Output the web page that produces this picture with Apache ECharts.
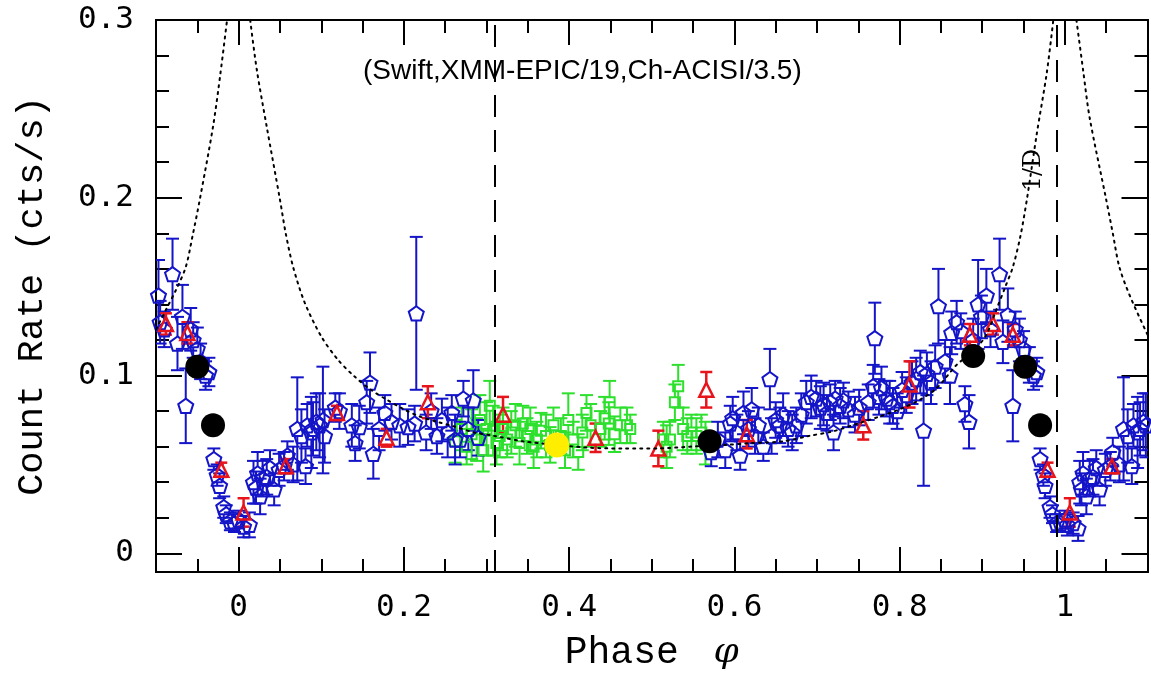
<!DOCTYPE html>
<html><head><meta charset="utf-8">
<script src="https://cdn.jsdelivr.net/npm/echarts@6/dist/echarts.min.js"></script>
<style>html,body{margin:0;padding:0;background:#fff}#c{width:1151px;height:677px}</style>
</head><body><div id="c"></div>
<script>
// ---------- axis values ----------
const xMin = -0.1, xMax = 1.1;
const yMin = -0.0105, yMax = 0.3;
const xTickLabels = [0, 0.2, 0.4, 0.6, 0.8, 1];
const xMinorTicks = [-0.05, 0.05, 0.1, 0.15, 0.25, 0.3, 0.35, 0.45, 0.5, 0.55, 0.65, 0.7, 0.75, 0.85, 0.9, 0.95, 1.05];
const yTickLabels = [0, 0.1, 0.2, 0.3];
const yMinorTicks = [0.02, 0.04, 0.06, 0.08, 0.12, 0.14, 0.16, 0.18, 0.22, 0.24, 0.26, 0.28];

// ---------- data: [phase, rate, error] ----------
const swiftData = [
 [-0.097,0.145,0.020],[-0.095,0.130,0.012],[-0.090,0.126,0.010],[-0.080,0.157,0.020],[-0.074,0.118,0.015],
 [-0.068,0.133,0.018],[-0.064,0.083,0.021],[-0.058,0.126,0.012],[-0.055,0.120,0.010],[-0.050,0.115,0.012],
 [-0.046,0.108,0.010],[-0.040,0.100,0.008],[-0.036,0.102,0.008],[-0.030,0.053,0.006],[-0.026,0.044,0.006],
 [-0.023,0.038,0.007],[-0.018,0.026,0.006],[-0.015,0.022,0.005],[-0.010,0.018,0.005],[-0.005,0.017,0.005],
 [0.000,0.019,0.005],[0.006,0.015,0.006],[0.013,0.016,0.007],[0.018,0.040,0.012],[0.021,0.037,0.009],
 [0.023,0.045,0.012],[0.026,0.032,0.010],[0.029,0.042,0.010],[0.034,0.043,0.010],[0.038,0.048,0.010],
 [0.043,0.036,0.009],[0.049,0.047,0.009],[0.055,0.049,0.008],[0.059,0.055,0.008],[0.066,0.050,0.010],
 [0.071,0.070,0.029],[0.076,0.066,0.015],[0.081,0.049,0.010],[0.083,0.072,0.012],[0.088,0.068,0.020],
 [0.090,0.070,0.015],[0.094,0.074,0.016],[0.098,0.072,0.018],[0.102,0.075,0.030],[0.104,0.066,0.015],
 [0.117,0.082,0.008],[0.122,0.080,0.010],[0.137,0.072,0.012],[0.141,0.062,0.010],[0.146,0.071,0.012],
 [0.155,0.085,0.012],[0.159,0.096,0.017],[0.163,0.056,0.014],[0.170,0.070,0.012],[0.177,0.079,0.010],
 [0.185,0.074,0.010],[0.195,0.072,0.012],[0.205,0.071,0.010],[0.213,0.073,0.010],[0.215,0.135,0.043],
 [0.227,0.068,0.010],[0.233,0.080,0.010],[0.240,0.066,0.010],[0.246,0.075,0.012],[0.253,0.068,0.014],
 [0.258,0.079,0.010],[0.262,0.064,0.014],[0.268,0.064,0.010],[0.272,0.087,0.010],[0.278,0.070,0.012],
 [0.284,0.086,0.017],[0.290,0.065,0.010],
 [0.572,0.057,0.008],[0.580,0.064,0.010],[0.589,0.058,0.010],[0.595,0.073,0.010],[0.598,0.076,0.012],
 [0.603,0.068,0.010],[0.607,0.055,0.008],[0.611,0.079,0.012],[0.617,0.070,0.010],[0.621,0.081,0.012],
 [0.625,0.066,0.010],[0.629,0.072,0.010],[0.635,0.060,0.008],[0.643,0.098,0.017],[0.645,0.066,0.010],
 [0.650,0.075,0.010],[0.655,0.072,0.010],[0.659,0.078,0.012],[0.665,0.070,0.010],[0.670,0.068,0.010],
 [0.675,0.072,0.010],[0.681,0.078,0.012],[0.687,0.085,0.012],[0.693,0.088,0.012],[0.699,0.087,0.010],
 [0.704,0.082,0.012],[0.708,0.084,0.012],[0.712,0.079,0.010],[0.716,0.085,0.010],[0.720,0.068,0.010],
 [0.722,0.087,0.010],[0.728,0.083,0.010],[0.732,0.086,0.010],[0.738,0.081,0.010],[0.746,0.078,0.010],
 [0.751,0.082,0.010],[0.762,0.085,0.010],[0.768,0.094,0.012],[0.770,0.121,0.020],[0.775,0.088,0.010],
 [0.778,0.093,0.012],[0.784,0.087,0.010],[0.788,0.085,0.012],[0.792,0.083,0.010],[0.797,0.080,0.010],
 [0.803,0.092,0.010],[0.808,0.089,0.010],[0.815,0.096,0.012],[0.820,0.098,0.012],[0.825,0.102,0.012],
 [0.829,0.069,0.031],[0.833,0.101,0.012],[0.838,0.096,0.012],[0.843,0.105,0.012],[0.847,0.139,0.021],
 [0.855,0.108,0.012],[0.861,0.100,0.016],[0.863,0.124,0.012],[0.869,0.130,0.012],[0.874,0.125,0.010],
 [0.879,0.084,0.010],[0.884,0.074,0.015],[0.889,0.120,0.012],[0.895,0.140,0.025],[0.899,0.133,0.012],
 [0.905,0.145,0.015],[0.910,0.126,0.010],[0.921,0.157,0.020],[0.925,0.119,0.012],[0.931,0.134,0.015],
 [0.937,0.083,0.020],[0.940,0.126,0.010],[0.945,0.120,0.012],[0.950,0.115,0.010],[0.957,0.106,0.010],
 [0.962,0.100,0.008],[0.966,0.102,0.008],[0.970,0.053,0.006],[0.974,0.044,0.006],[0.976,0.038,0.007],
 [0.982,0.026,0.006],[0.985,0.022,0.005],[0.990,0.017,0.005],[0.995,0.017,0.005],[1.000,0.019,0.005],
 [1.003,0.016,0.006],[1.010,0.017,0.006],[1.016,0.014,0.007],[1.018,0.040,0.012],[1.020,0.036,0.009],
 [1.022,0.045,0.012],[1.026,0.032,0.010],[1.030,0.042,0.010],[1.034,0.043,0.010],[1.038,0.048,0.010],
 [1.042,0.036,0.009],[1.049,0.047,0.009],[1.055,0.049,0.008],[1.058,0.057,0.008],[1.066,0.050,0.010],
 [1.071,0.070,0.029],[1.076,0.066,0.015],[1.081,0.049,0.010],[1.083,0.072,0.012],[1.088,0.068,0.020],
 [1.091,0.070,0.015],[1.095,0.074,0.016],[1.098,0.072,0.018]
];
const xmmData = [
 [0.262,0.063,0.012],[0.270,0.070,0.012],[0.276,0.060,0.010],[0.282,0.067,0.014],[0.288,0.064,0.012],
 [0.292,0.075,0.014],[0.296,0.058,0.012],[0.300,0.070,0.015],[0.304,0.083,0.014],[0.308,0.069,0.014],
 [0.312,0.062,0.012],[0.316,0.066,0.012],[0.320,0.070,0.012],[0.325,0.064,0.010],[0.330,0.068,0.012],
 [0.335,0.072,0.012],[0.340,0.062,0.012],[0.344,0.073,0.010],[0.349,0.066,0.010],[0.353,0.070,0.012],
 [0.357,0.060,0.012],[0.361,0.064,0.010],[0.366,0.069,0.010],[0.372,0.066,0.012],[0.377,0.061,0.010],
 [0.381,0.072,0.010],[0.390,0.066,0.010],[0.395,0.058,0.010],[0.399,0.075,0.015],[0.405,0.064,0.010],
 [0.411,0.057,0.010],[0.416,0.068,0.010],[0.421,0.079,0.010],[0.426,0.072,0.012],[0.438,0.070,0.010],
 [0.443,0.076,0.012],[0.449,0.085,0.012],[0.448,0.073,0.012],[0.455,0.067,0.010],[0.462,0.072,0.010],
 [0.470,0.072,0.010],[0.474,0.070,0.008],[0.514,0.064,0.010],[0.518,0.060,0.012],[0.522,0.064,0.010],
 [0.528,0.085,0.010],[0.532,0.094,0.012],[0.538,0.070,0.012],[0.543,0.066,0.010],[0.548,0.068,0.010],
 [0.554,0.066,0.010],[0.560,0.068,0.010],[0.565,0.062,0.012]
];
const chandraData = [
 [-0.088,0.129,0.006],[-0.062,0.124,0.006],[-0.021,0.047,0.004],[0.006,0.023,0.008],[0.057,0.049,0.004],
 [0.119,0.079,0.004],[0.179,0.065,0.005],[0.229,0.085,0.009],[0.320,0.078,0.010],[0.432,0.065,0.008],
 [0.508,0.059,0.010],[0.566,0.092,0.010],[0.615,0.067,0.008],[0.756,0.072,0.008],[0.812,0.095,0.013],
 [0.885,0.123,0.006],[0.913,0.129,0.006],[0.937,0.123,0.006],[0.979,0.047,0.004],[1.006,0.023,0.008],
 [1.057,0.049,0.004]
];
const blackPoints = [[-0.050,0.105],[-0.031,0.072],[0.570,0.063],[0.889,0.111],[0.952,0.105],[0.970,0.072]];
const yellowPoints = [[0.385,0.061]];

// dotted 1/D curve, in three pieces (it leaves the frame near phase 0 and 1)
const curveLeft = [[-0.100,0.126],[-0.088,0.137],[-0.076,0.148],[-0.064,0.161],[-0.056,0.178],[-0.047,0.199],
 [-0.031,0.240],[-0.022,0.270],[-0.014,0.300]];
const curveMid = [[0.014,0.300],[0.022,0.272],[0.034,0.240],[0.050,0.199],[0.057,0.180],[0.066,0.161],
 [0.080,0.141],[0.100,0.122],[0.120,0.109],[0.139,0.100],[0.160,0.092],[0.179,0.0865],[0.200,0.081],
 [0.219,0.077],[0.240,0.074],[0.260,0.0715],[0.285,0.068],[0.310,0.066],[0.344,0.063],[0.385,0.061],
 [0.425,0.0594],[0.465,0.059],[0.506,0.059],[0.546,0.060],[0.590,0.061],[0.620,0.062],[0.659,0.063],
 [0.690,0.066],[0.720,0.0687],[0.752,0.0734],[0.776,0.077],[0.800,0.081],[0.825,0.0865],[0.845,0.093],
 [0.869,0.106],[0.890,0.114],[0.905,0.123],[0.917,0.137],[0.928,0.150],[0.937,0.161],[0.946,0.178],
 [0.954,0.199],[0.966,0.236],[0.978,0.270],[0.986,0.300]];
const curveRight = [[1.014,0.300],[1.022,0.272],[1.030,0.245],[1.050,0.199],[1.058,0.180],[1.066,0.161],
 [1.079,0.1445],[1.100,0.123]];

const refPhases = [0.314, 0.993];
const noteText = '(Swift,XMM-EPIC/19,Ch-ACISI/3.5)';
const curveLabel = '1/D';

// ---------- styling ----------
const BLUE = '#1414c8', RED = '#e8141c', GREEN = '#2ee02e';
const AX = {color:'#000', width:2};
const numFont = {fontFamily:'DejaVu Sans Mono', fontSize:31, color:'#000'};
const titleFont = 'Liberation Mono';

function fmt(v){ return String(+(+v).toFixed(2)); }

function xAx(pos, vals, len, withLabels){
  return {type:'value', position:pos, min:xMin, max:xMax,
    axisLine:{show:true, onZero:false, lineStyle:AX},
    axisTick:{show:true, inside:true, length:len, customValues:vals, lineStyle:AX},
    axisLabel: withLabels ? Object.assign({show:true, margin:20, customValues:vals, formatter:fmt}, numFont) : {show:false},
    splitLine:{show:false}};
}
function yAx(pos, vals, len, withLabels){
  return {type:'value', position:pos, min:yMin, max:yMax,
    axisLine:{show:true, onZero:false, lineStyle:AX},
    axisTick:{show:true, inside:true, length:len, customValues:vals, lineStyle:AX},
    axisLabel: withLabels ? Object.assign({show:true, margin:22, customValues:vals, formatter:fmt}, numFont) : {show:false},
    splitLine:{show:false}};
}

const xAxes = [xAx('bottom', xTickLabels, 25, true), xAx('bottom', xMinorTicks, 13, false),
               xAx('top', xTickLabels, 25, false), xAx('top', xMinorTicks, 13, false)];
xAxes[0].name = 'Phase {i|φ}';
xAxes[0].nameLocation = 'middle';
xAxes[0].nameGap = 62;
xAxes[0].nameTextStyle = {fontFamily:titleFont, fontSize:38, color:'#000',
  rich:{i:{fontFamily:'DejaVu Serif', fontStyle:'italic', fontSize:36, color:'#000', padding:[0,0,0,12]}}};
const yAxes = [yAx('left', yTickLabels, 26, true), yAx('left', yMinorTicks, 13, false),
               yAx('right', yTickLabels, 26, false), yAx('right', yMinorTicks, 13, false)];
yAxes[0].name = 'Count Rate (cts/s)';
yAxes[0].nameLocation = 'middle';
yAxes[0].nameGap = 105;
yAxes[0].nameTextStyle = {fontFamily:titleFont, fontSize:37, color:'#000'};

// error bars with a gap where the hollow marker sits
function errRender(color, cap, lw, gap){
  return function(params, api){
    const x = api.value(0), y = api.value(1), e = api.value(2);
    const c = api.coord([x, y]);
    const t = api.coord([x, y + e]);
    const b = api.coord([x, y - e]);
    const h = cap / 2, st = {stroke:color, lineWidth:lw};
    const ch = [
      {type:'line', shape:{x1:t[0]-h, y1:t[1], x2:t[0]+h, y2:t[1]}, style:st},
      {type:'line', shape:{x1:b[0]-h, y1:b[1], x2:b[0]+h, y2:b[1]}, style:st}
    ];
    if (c[1] - gap > t[1]) ch.push({type:'line', shape:{x1:c[0], y1:t[1], x2:c[0], y2:c[1]-gap}, style:st});
    if (c[1] + gap < b[1]) ch.push({type:'line', shape:{x1:c[0], y1:c[1]+gap, x2:c[0], y2:b[1]}, style:st});
    return {type:'group', children:ch};
  };
}

const pentagon = 'path://M0,-10 L9.51,-3.09 L5.88,8.09 L-5.88,8.09 L-9.51,-3.09 Z';

function markers(data, symbol, size, color, lw){
  return {type:'scatter', data:data.map(d => [d[0], d[1]]), symbol:symbol, symbolSize:size, symbolKeepAspect:true,
    itemStyle:{color:'rgba(255,255,255,0)', borderColor:color, borderWidth:lw, opacity:1}, silent:true, z:3, clip:true};
}
function errs(data, color, cap, lw, gap){
  return {type:'custom', data:data, renderItem:errRender(color, cap, lw, gap), silent:true, z:2, clip:true,
    encode:{x:0, y:1}};
}
function curve(data){
  return {type:'line', data:data, showSymbol:false, symbol:'none', silent:true, z:4, clip:true, smooth:0.3,
    lineStyle:{color:'#000', width:2, type:[2,5], cap:'round', opacity:1}};
}
function dots(data, color, size){
  return {type:'scatter', data:data, symbol:'circle', symbolSize:size, itemStyle:{color:color, opacity:1}, silent:true, z:6};
}

const option = {
  animation:false,
  backgroundColor:'#fff',
  grid:{left:156, top:20, right:3.5, bottom:104.3, containLabel:false},
  xAxis:xAxes,
  yAxis:yAxes,
  series:[
    errs(xmmData, GREEN, 13, 2, 5), markers(xmmData, 'rect', 10, GREEN, 2),
    errs(swiftData, BLUE, 13, 2, 7), markers(swiftData, pentagon, 15, BLUE, 2),
    errs(chandraData, RED, 12, 2.5, 6), markers(chandraData, 'triangle', 14, RED, 2.5),
    curve(curveLeft), curve(curveMid), curve(curveRight),
    {type:'line', data:[], silent:true, z:5,
     markLine:{silent:true, symbol:'none', label:{show:false},
       lineStyle:{color:'#000', width:2, type:[22,13], opacity:1},
       data:refPhases.map(p => ({xAxis:p}))}},
    dots(blackPoints, '#000', 24),
    dots(yellowPoints, '#ffee00', 25)
  ],
  graphic:[
    {type:'text', left:363, top:57, style:{text:noteText, font:'28px "Liberation Sans"', fill:'#000'}, z:10},
    {type:'text', x:1034, y:170, rotation:Math.PI/2,
     style:{text:curveLabel, font:'24px "DejaVu Serif"', fill:'#000', align:'center', verticalAlign:'middle'}, z:10}
  ]
};
const chart = echarts.init(document.getElementById('c'), null, {renderer:'canvas'});
chart.setOption(option);
</script>
</body></html>
